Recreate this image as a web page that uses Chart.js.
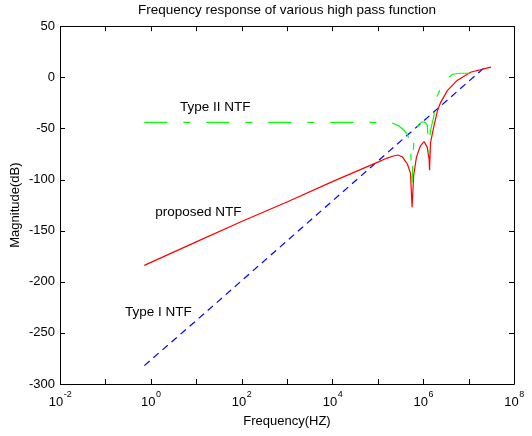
<!DOCTYPE html>
<html>
<head>
<meta charset="utf-8">
<title>Frequency response of various high pass function</title>
<script src="https://cdn.jsdelivr.net/npm/chart.js@4.4.1/dist/chart.umd.min.js"></script>
<style>
  html, body { margin: 0; padding: 0; background: #fff; }
  #wrap { width: 532px; height: 436px; position: relative; }
</style>
</head>
<body>
<div id="wrap"><canvas id="hpChart"></canvas></div>
<script>
// ---- Data (frequency in Hz, magnitude in dB) ----
const typeIFreq = [0.72, 10, 1e2, 1e3, 1e4, 1e5, 1e6, 1e7, 2.6e7];
const typeIMag  = [-282, -238, -199, -160, -121, -82, -43, -4, 12];

const proposedFreq = [0.72, 10, 1e2, 1e3, 1e4, 1e5, 1.6e5, 2.2e5, 2.8e5, 3.5e5,
                      4.5e5, 5.25e5, 5.69e5, 6.17e5, 7.1e5, 8.7e5, 1.04e6, 1.22e6,
                      1.35e6, 1.38e6, 1.45e6, 1.7e6, 2.05e6, 2.4e6, 3.4e6, 5.6e6,
                      1.1e7, 3.1e7];
const proposedMag  = [-184, -161, -141, -122, -102, -83, -79, -77, -76, -78,
                      -85, -94, -127, -96, -78, -67, -63, -68,
                      -80, -91, -64, -49, -33, -25, -13, -3,
                      5, 10];

const typeIIFreq = [0.72, 1.9e5, 2.9e5, 3.8e5, 4.5e5, 5.2e5, 5.69e5, 6.2e5, 6.8e5,
                    8e5, 9.5e5, 1.1e6, 1.23e6, 1.35e6, 1.445e6, 1.7e6, 1.95e6,
                    2.8e6, 4.4e6, 6.6e6, 2.1e7];
const typeIIMag  = [-44, -44, -47.5, -52, -56, -64, -103, -62, -53,
                    -46, -43.5, -44, -47, -75, -52, -39, -20,
                    -4.5, 3, 4, 4];

// tick decades (powers of ten) and which ones carry a label
const xDecades  = [-2, -1, 0, 1, 2, 3, 4, 5, 6, 7, 8];
const xLabelExp = [-2, 0, 2, 4, 6, 8];
const yTicks    = [50, 0, -50, -100, -150, -200, -250, -300];

// in-plot text labels
const noteText = ["Type II NTF", "proposed NTF", "Type I NTF"];
const noteFreq = [4.4, 1.25, 0.27];
const noteMag  = [-29, -132, -230];

const FONT = "'Liberation Sans', Arial, Helvetica, sans-serif";

function pts(xs, ys) {
  return xs.map((x, i) => ({ x: x, y: ys[i] }));
}

// ---- Plugin: box, inward ticks, superscript x labels, notes ----
const matlabAxes = {
  id: "matlabAxes",
  afterDraw(chart) {
    const { ctx, chartArea: a, scales: { x, y } } = chart;
    const tl = 5;
    ctx.save();
    ctx.strokeStyle = "#000";
    ctx.lineWidth = 1;
    ctx.beginPath();
    ctx.rect(Math.round(a.left) + 0.5, Math.round(a.top) + 0.5,
             Math.round(a.right - a.left), Math.round(a.bottom - a.top));
    xDecades.forEach(e => {
      const px = Math.round(x.getPixelForValue(Math.pow(10, e))) + 0.5;
      ctx.moveTo(px, a.bottom); ctx.lineTo(px, a.bottom - tl);
      ctx.moveTo(px, a.top);    ctx.lineTo(px, a.top + tl);
    });
    yTicks.forEach(v => {
      const py = Math.round(y.getPixelForValue(v)) + 0.5;
      ctx.moveTo(a.left, py);  ctx.lineTo(a.left + tl, py);
      ctx.moveTo(a.right, py); ctx.lineTo(a.right - tl, py);
    });
    ctx.stroke();

    // x tick labels 10^n
    ctx.fillStyle = "#000";
    ctx.textBaseline = "middle";
    ctx.textAlign = "left";
    xLabelExp.forEach(e => {
      const px = x.getPixelForValue(Math.pow(10, e));
      ctx.font = "13px " + FONT;
      const wb = ctx.measureText("10").width;
      ctx.font = "9px " + FONT;
      const we = ctx.measureText(String(e)).width;
      const x0 = px - (wb + we) / 2;
      ctx.font = "13px " + FONT;
      ctx.fillText("10", x0, a.bottom + 18);
      ctx.font = "9px " + FONT;
      ctx.fillText(String(e), x0 + wb + 0.5, a.bottom + 11);
    });

    // curve names
    ctx.font = "13.5px " + FONT;
    noteText.forEach((t, i) => {
      ctx.fillText(t, x.getPixelForValue(noteFreq[i]), y.getPixelForValue(noteMag[i]));
    });
    ctx.restore();
  }
};

new Chart(document.getElementById("hpChart"), {
  type: "line",
  data: {
    datasets: [
      {
        label: "Type II NTF",
        data: pts(typeIIFreq, typeIIMag),
        borderColor: "#00ff00",
        borderWidth: 1.2,
        borderDash: [23, 16, 7, 16]
      },
      {
        label: "proposed NTF",
        data: pts(proposedFreq, proposedMag),
        borderColor: "#ff0000",
        borderWidth: 1.2
      },
      {
        label: "Type I NTF",
        data: pts(typeIFreq, typeIMag),
        borderColor: "#0000ff",
        borderWidth: 1.2,
        borderDash: [7, 5]
      }
    ]
  },
  options: {
    responsive: true,
    maintainAspectRatio: false,
    animation: false,
    devicePixelRatio: 1,
    elements: { point: { radius: 0 }, line: { tension: 0 } },
    layout: { padding: { top: 0, right: 18, bottom: 0, left: 0 } },
    plugins: {
      legend: { display: false },
      tooltip: { enabled: false },
      title: {
        display: true,
        fullSize: false,
        text: "Frequency response of various high pass function",
        color: "#000",
        font: { family: FONT, size: 13.5, weight: "normal" },
        padding: { top: 2, bottom: 8 }
      }
    },
    scales: {
      x: {
        type: "logarithmic",
        min: 1e-2,
        max: 1e8,
        grid: { display: false, drawTicks: false },
        border: { display: false },
        ticks: { display: false },
        afterBuildTicks: s => { s.ticks = xDecades.map(e => ({ value: Math.pow(10, e) })); },
        afterFit: s => { s.height = 52; },
        title: {
          display: true,
          text: "Frequency(HZ)",
          color: "#000",
          font: { family: FONT, size: 13 },
          padding: { top: 0, bottom: 7 }
        }
      },
      y: {
        min: -300,
        max: 50,
        grid: { display: false, drawTicks: false },
        border: { display: false },
        ticks: {
          stepSize: 50,
          padding: 5,
          color: "#000",
          font: { family: FONT, size: 13 }
        },
        afterFit: s => { s.width = 60; },
        title: {
          display: true,
          text: "Magnitude(dB)",
          color: "#000",
          font: { family: FONT, size: 13 },
          padding: { top: 8, bottom: 0 }
        }
      }
    }
  },
  plugins: [matlabAxes]
});
</script>
</body>
</html>
